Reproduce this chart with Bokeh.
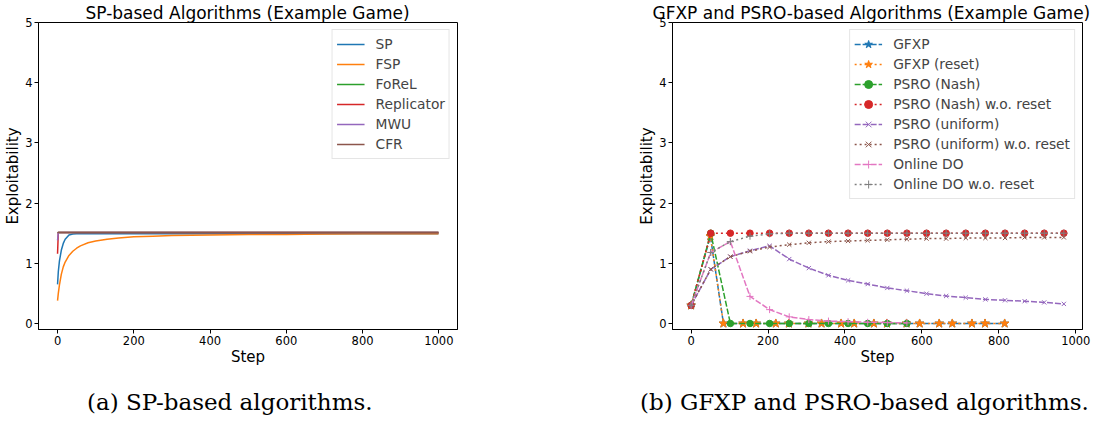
from bokeh.plotting import figure
from bokeh.layouts import row, column
from bokeh.models import Range1d, FixedTicker, Legend, LegendItem, Div
from bokeh.embed import file_html
from bokeh.resources import INLINE

FONT = "DejaVu Sans"
SERIF = "DejaVu Serif"

# ---------------- data: SP-based algorithms ----------------
sp_steps = [0, 2, 5, 10, 15, 20, 30, 40, 50, 60, 80, 100, 130, 160, 200, 250, 300, 400, 500, 600, 700, 800, 900, 999]
sp_vals = [0.65, 0.86, 1.04, 1.22, 1.33, 1.40, 1.47, 1.485, 1.49, 1.49, 1.49, 1.49, 1.49, 1.49, 1.49, 1.49, 1.49, 1.49, 1.49, 1.49, 1.49, 1.49, 1.49, 1.49]
fsp_vals = [0.38, 0.50, 0.64, 0.82, 0.94, 1.02, 1.13, 1.20, 1.25, 1.29, 1.34, 1.37, 1.40, 1.42, 1.44, 1.45, 1.46, 1.47, 1.48, 1.48, 1.485, 1.49, 1.49, 1.49]
forel_vals = [1.50, 1.51, 1.51, 1.51, 1.51, 1.51, 1.51, 1.51, 1.51, 1.51, 1.51, 1.51, 1.51, 1.51, 1.51, 1.51, 1.51, 1.51, 1.51, 1.51, 1.51, 1.51, 1.51, 1.51]
replicator_vals = [1.16, 1.51, 1.51, 1.51, 1.51, 1.51, 1.51, 1.51, 1.51, 1.51, 1.51, 1.51, 1.51, 1.51, 1.51, 1.51, 1.51, 1.51, 1.51, 1.51, 1.51, 1.51, 1.51, 1.51]
mwu_vals = [1.38, 1.51, 1.51, 1.51, 1.51, 1.51, 1.51, 1.51, 1.51, 1.51, 1.51, 1.51, 1.51, 1.51, 1.51, 1.51, 1.51, 1.51, 1.51, 1.51, 1.51, 1.51, 1.51, 1.51]
cfr_vals = [1.51, 1.51, 1.51, 1.51, 1.51, 1.51, 1.51, 1.51, 1.51, 1.51, 1.51, 1.51, 1.51, 1.51, 1.51, 1.51, 1.51, 1.51, 1.51, 1.51, 1.51, 1.51, 1.51, 1.51]
sp_names = ["SP", "FSP", "FoReL", "Replicator", "MWU", "CFR"]

# ---------------- data: GFXP and PSRO-based algorithms ----------------
gfxp_steps = [0, 50, 84, 135, 169, 220, 254, 305, 339, 390, 424, 475, 509, 560, 594, 645, 679, 730, 764, 815]
gfxp_vals = [0.30, 1.45, 0, 0, 0, 0, 0, 0, 0, 0, 0, 0, 0, 0, 0, 0, 0, 0, 0, 0]
gfxp_reset_vals = [0.30, 1.45, 0, 0, 0, 0, 0, 0, 0, 0, 0, 0, 0, 0, 0, 0, 0, 0, 0, 0]
psro_steps = [0, 51, 102, 153, 204, 255, 306, 357, 408, 459, 510, 561, 612, 663, 714, 765, 816, 867, 918, 969]
psro_short_steps = [0, 51, 102, 153, 204, 255, 306, 357, 408, 459, 510, 561]
psro_nash_vals = [0.30, 1.50, 0, 0, 0, 0, 0, 0, 0, 0, 0, 0]
psro_nash_noreset_vals = [0.30, 1.50, 1.50, 1.50, 1.50, 1.50, 1.50, 1.50, 1.50, 1.50, 1.50, 1.50, 1.50, 1.50, 1.50, 1.50, 1.50, 1.50, 1.50, 1.50]
psro_unif_vals = [0.30, 0.90, 1.11, 1.21, 1.29, 1.07, 0.92, 0.80, 0.715, 0.655, 0.59, 0.545, 0.495, 0.457, 0.43, 0.40, 0.385, 0.37, 0.35, 0.325]
psro_unif_noreset_vals = [0.30, 0.90, 1.11, 1.20, 1.27, 1.31, 1.34, 1.36, 1.37, 1.38, 1.39, 1.40, 1.41, 1.41, 1.42, 1.42, 1.42, 1.43, 1.43, 1.43]
odo_vals = [0.30, 1.18, 1.36, 0.45, 0.23, 0.11, 0.065, 0.04, 0.03, 0.02, 0.015, 0.01]
odo_noreset_vals = [0.30, 1.18, 1.36, 1.45, 1.49, 1.50, 1.50, 1.50, 1.50, 1.50, 1.50, 1.50, 1.50, 1.50, 1.50, 1.50, 1.50, 1.50, 1.50, 1.50]

x_ticks = [0, 200, 400, 600, 800, 1000]
y_ticks = [0, 1, 2, 3, 4, 5]

title_a = "SP-based Algorithms (Example Game)"
title_b = "GFXP and PSRO-based Algorithms (Example Game)"
caption_a = "(a) SP-based algorithms."
caption_b = "(b) GFXP and PSRO-based algorithms."

C = ["#1f77b4", "#ff7f0e", "#2ca02c", "#d62728", "#9467bd", "#8c564b", "#e377c2", "#7f7f7f"]

H = 373
BOTTOM = 44


def style(p, title_offset):
    p.outline_line_color = "black"
    p.outline_line_width = 1
    p.grid.visible = False
    p.background_fill_color = "white"
    p.border_fill_color = "white"
    p.title.text_font = FONT
    p.title.text_font_size = "17px"
    p.title.text_font_style = "normal"
    p.title.text_color = "black"
    p.title.standoff = 0
    p.title.align = "left"
    p.title.offset = title_offset
    for ax in (p.xaxis[0], p.yaxis[0]):
        ax.axis_line_color = "black"
        ax.major_tick_line_color = "black"
        ax.major_tick_out = 4
        ax.major_tick_in = 0
        ax.minor_tick_line_color = None
        ax.major_label_text_font = FONT
        ax.major_label_text_font_size = "11.5px"
        ax.major_label_text_color = "black"
        ax.axis_label_text_font = FONT
        ax.axis_label_text_font_size = "15px"
        ax.axis_label_text_font_style = "normal"
        ax.axis_label_text_color = "black"
        ax.major_label_standoff = 2
        ax.axis_label_standoff = 0
    p.xaxis[0].ticker = FixedTicker(ticks=x_ticks)
    p.yaxis[0].ticker = FixedTicker(ticks=y_ticks)
    p.xaxis[0].axis_label = "Step"
    p.yaxis[0].axis_label = "Exploitability"


def make_legend(items):
    return Legend(items=items, location="top_right", margin=7, padding=4, spacing=0,
                  label_height=20, glyph_height=20, glyph_width=28, label_standoff=11,
                  label_text_font=FONT, label_text_font_size="13.8px",
                  border_line_color="#cccccc", border_line_width=1,
                  background_fill_alpha=0.8)


# ---------------- left figure ----------------
W1 = 530
p1 = figure(width=W1, height=H, output_backend="svg", toolbar_location=None, title=title_a,
            x_range=Range1d(-49.95, 1048.95), y_range=Range1d(-0.1, 5),
            min_border_left=38, min_border_right=73, min_border_top=0, min_border_bottom=BOTTOM)
style(p1, 47)
items1 = []
for name, vals, col in zip(sp_names, [sp_vals, fsp_vals, forel_vals, replicator_vals, mwu_vals, cfr_vals], C):
    r = p1.line(sp_steps, vals, line_color=col, line_width=1.5)
    items1.append(LegendItem(label=name, renderers=[r]))
p1.add_layout(make_legend(items1))

# ---------------- right figure ----------------
W2 = 567
p2 = figure(width=W2, height=H, output_backend="svg", toolbar_location=None, title=title_b,
            x_range=Range1d(-48.45, 1017.45), y_range=Range1d(-0.1, 5),
            min_border_left=142, min_border_right=15, min_border_top=0, min_border_bottom=BOTTOM)
style(p2, -20)

DASHED = "6 2"
DOTTED = "2 3"
series2 = [
    ("GFXP", gfxp_steps, gfxp_vals, C[0], DASHED, "star", 9),
    ("GFXP (reset)", gfxp_steps, gfxp_reset_vals, C[1], DOTTED, "star", 9),
    ("PSRO (Nash)", psro_short_steps, psro_nash_vals, C[2], DASHED, "circle", 6.5),
    ("PSRO (Nash) w.o. reset", psro_steps, psro_nash_noreset_vals, C[3], DOTTED, "circle", 6.5),
    ("PSRO (uniform)", psro_steps, psro_unif_vals, C[4], DASHED, "x", 6),
    ("PSRO (uniform) w.o. reset", psro_steps, psro_unif_noreset_vals, C[5], DOTTED, "x", 6),
    ("Online DO", psro_short_steps, odo_vals, C[6], DASHED, "cross", 7),
    ("Online DO w.o. reset", psro_steps, odo_noreset_vals, C[7], DOTTED, "cross", 7),
]
items2 = []
for name, xs, ys, col, dash, mk, sz in series2:
    l = p2.line(xs, ys, line_color=col, line_width=1.5, line_dash=dash)
    s = p2.scatter(xs, ys, marker=mk, size=sz, fill_color=col, line_color=col, line_width=1)
    items2.append(LegendItem(label=name, renderers=[l, s]))
p2.add_layout(make_legend(items2))

# ---------------- captions ----------------
span = "position:absolute;top:16px;white-space:nowrap;line-height:normal;"
cap_html = (
    '<div style="position:relative;width:1097px;height:48px;'
    "font-family:'DejaVu Serif';font-size:23px;color:black;\">"
    f'<span style="{span}left:87px;">{caption_a}</span>'
    f'<span style="{span}left:640px;">{caption_b}</span>'
    "</div>"
)
caps = Div(text=cap_html, width=1097, height=48, margin=0)

layout = column(row(p1, p2), caps)
open("out.html", "w").write(file_html(layout, INLINE))
